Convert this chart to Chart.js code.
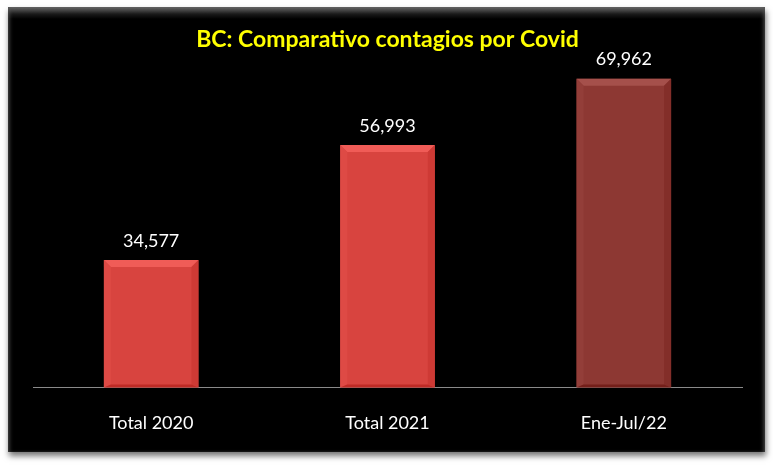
<!DOCTYPE html>
<html>
<head>
<meta charset="utf-8">
<script src="https://cdn.jsdelivr.net/npm/chart.js@4"></script>
<style>
  html, body { margin: 0; padding: 0; background: #fff; }
  #box {
    position: absolute; left: 8px; top: 7px; width: 757px; height: 445px;
    background: linear-gradient(to bottom, #6a6a6a 0px, #1a1a1a 7px, #000 12px, #000 100%);
    box-shadow: 1px 4px 6px rgba(0,0,0,0.55);
  }
  #box::after {
    content: ""; position: absolute; left: 0; top: 0; right: 0; bottom: 0;
    box-shadow: inset 3px 0 4px -2px #555, inset -3px 0 4px -2px #555;
    pointer-events: none;
  }
  canvas { position: absolute; left: 0; top: 0; }
</style>
</head>
<body>
<div id="box"><canvas id="myChart" width="757" height="445"></canvas></div>
<script>
var categories = ["Total 2020", "Total 2021", "Ene-Jul/22"]
var contagios = [34577, 56993, 69962]
var barColors = ["#d8443f", "#d8443f", "#8d3833"]
var titleText = "BC: Comparativo contagios por Covid"
var axisMin = 9700
var axisMax = 72900

function shade(hex, amt) {
  var n = parseInt(hex.slice(1), 16)
  var r = Math.min(255, Math.max(0, (n >> 16) + amt))
  var g = Math.min(255, Math.max(0, ((n >> 8) & 255) + amt))
  var b = Math.min(255, Math.max(0, (n & 255) + amt))
  return "rgb(" + r + "," + g + "," + b + ")"
}

// bevel edges + value labels on top of each bar
var barExtras = {
  id: "barExtras",
  afterDatasetsDraw: function(chart) {
    var ctx = chart.ctx
    var meta = chart.getDatasetMeta(0)
    meta.data.forEach(function(bar, i) {
      var p = bar.getProps(["x", "y", "base", "width"], true)
      var l = p.x - p.width / 2, r = p.x + p.width / 2, t = p.y, b = p.base
      var e = 7
      var c = barColors[i]
      ctx.save()
      // top bevel
      ctx.fillStyle = shade(c, 24)
      ctx.beginPath(); ctx.moveTo(l, t); ctx.lineTo(r, t); ctx.lineTo(r - e, t + e); ctx.lineTo(l + e, t + e); ctx.closePath(); ctx.fill()
      // left bevel
      ctx.fillStyle = shade(c, 6)
      ctx.beginPath(); ctx.moveTo(l, t); ctx.lineTo(l + e, t + e); ctx.lineTo(l + e, b - 3); ctx.lineTo(l, b); ctx.closePath(); ctx.fill()
      // right bevel
      ctx.fillStyle = shade(c, -10)
      ctx.beginPath(); ctx.moveTo(r, t); ctx.lineTo(r - e, t + e); ctx.lineTo(r - e, b - 3); ctx.lineTo(r, b); ctx.closePath(); ctx.fill()
      // bottom edge
      ctx.fillStyle = shade(c, -25)
      ctx.beginPath(); ctx.moveTo(l, b); ctx.lineTo(l + e, b - 3); ctx.lineTo(r - e, b - 3); ctx.lineTo(r, b); ctx.closePath(); ctx.fill()
      // value label
      ctx.fillStyle = "#ffffff"
      ctx.font = "18px Lato"
      ctx.textAlign = "center"
      ctx.textBaseline = "middle"
      ctx.fillText(contagios[i].toLocaleString("en-US"), p.x, t - 19)
      ctx.restore()
    })
  }
}

new Chart("myChart", {
  type: "bar",
  data: {
    labels: categories,
    datasets: [{
      data: contagios,
      backgroundColor: barColors,
      borderWidth: 0,
      base: axisMin,
      categoryPercentage: 1,
      barPercentage: 0.4
    }]
  },
  options: {
    responsive: false,
    animation: false,
    layout: { padding: { left: 25, right: 23, top: 0, bottom: 1 } },
    plugins: {
      legend: { display: false },
      tooltip: { enabled: false },
      title: {
        display: true,
        text: titleText,
        color: "#ffff00",
        font: { family: "Lato", size: 23, weight: "bold" },
        padding: { top: 19, bottom: 10 }
      }
    },
    scales: {
      x: {
        grid: { display: false },
        border: { display: true, color: "#8a8a8a", width: 1 },
        ticks: { color: "#ffffff", font: { family: "Lato", size: 18 }, padding: 17 }
      },
      y: {
        display: false,
        min: axisMin,
        max: axisMax
      }
    }
  },
  plugins: [barExtras]
})
</script>
</body>
</html>
